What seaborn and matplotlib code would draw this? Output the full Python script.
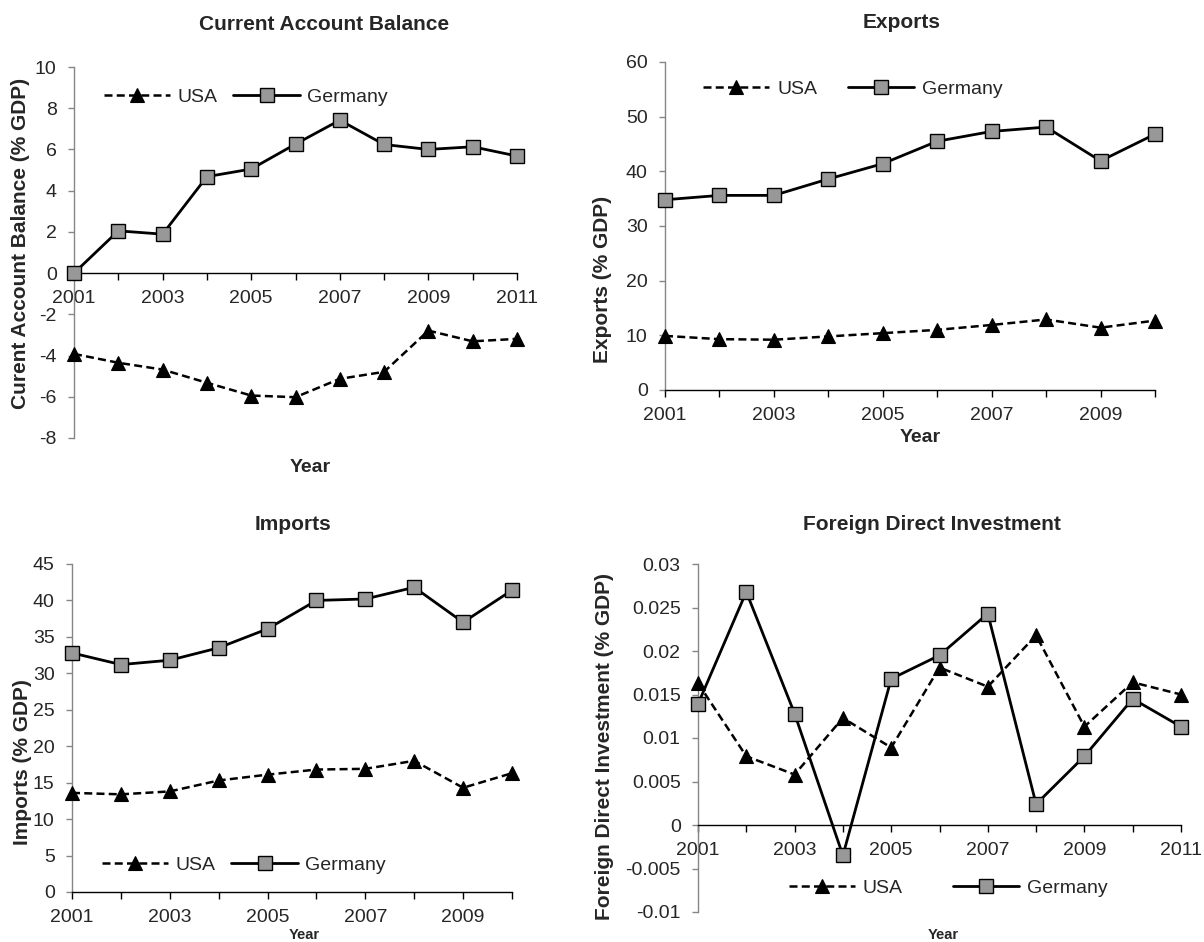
import matplotlib
matplotlib.use("Agg")
import matplotlib.pyplot as plt
from matplotlib.ticker import FixedLocator, FuncFormatter
import seaborn as sns
import pandas as pd

# ---------------- data ----------------
years_ca = [2001, 2002, 2003, 2004, 2005, 2006, 2007, 2008, 2009, 2010, 2011]
ca_usa = [-3.92, -4.35, -4.68, -5.32, -5.94, -6.02, -5.13, -4.79, -2.79, -3.31, -3.19]
ca_ger = [0.0, 2.05, 1.89, 4.68, 5.05, 6.26, 7.42, 6.24, 6.00, 6.13, 5.68]

years_trade = [2001, 2002, 2003, 2004, 2005, 2006, 2007, 2008, 2009, 2010]
exp_usa = [9.9, 9.3, 9.2, 9.8, 10.4, 11.0, 11.9, 12.9, 11.4, 12.7]
exp_ger = [34.8, 35.6, 35.6, 38.6, 41.4, 45.5, 47.3, 48.1, 41.9, 46.8]
imp_usa = [13.6, 13.4, 13.8, 15.3, 16.1, 16.8, 16.9, 18.0, 14.3, 16.3]
imp_ger = [32.8, 31.2, 31.8, 33.5, 36.1, 40.0, 40.2, 41.8, 37.0, 41.4]

years_fdi = [2001, 2002, 2003, 2004, 2005, 2006, 2007, 2008, 2009, 2010, 2011]
fdi_usa = [0.0163, 0.0079, 0.0058, 0.0123, 0.0089, 0.0181, 0.0159, 0.0218, 0.0113, 0.0164, 0.0150]
fdi_ger = [0.0139, 0.0268, 0.0128, -0.0035, 0.0168, 0.0195, 0.0243, 0.0024, 0.0079, 0.0145, 0.0113]

countries = ["USA", "Germany"]
titles = ["Current Account Balance", "Exports", "Imports", "Foreign Direct Investment"]
ylabels = ["Curent Account Balance (% GDP)", "Exports (% GDP)", "Imports (% GDP)",
           "Foreign Direct Investment (% GDP)"]
xlabel = "Year"
yticks_ca = [-8, -6, -4, -2, 0, 2, 4, 6, 8, 10]
yticks_exp = [0, 10, 20, 30, 40, 50, 60]
yticks_imp = [0, 5, 10, 15, 20, 25, 30, 35, 40, 45]
yticks_fdi = [-0.01, -0.005, 0, 0.005, 0.01, 0.015, 0.02, 0.025, 0.03]

# ---------------- style ----------------
sns.set_theme(style="white")
plt.rcParams["font.family"] = ["Liberation Sans", "DejaVu Sans"]
plt.rcParams["axes.unicode_minus"] = False

W, H = 1204, 942
fig = plt.figure(figsize=(W / 100, H / 100), dpi=100)


def rect(l, r, t, b):
    return [l / W, 1 - b / H, (r - l) / W, (b - t) / H]


def fxy(px, py):
    return (px / W, 1 - py / H)


GRAY_AX = "#868686"
MARK_GRAY = "#989898"

panels = [
    dict(years=years_ca, usa=ca_usa, ger=ca_ger, yticks=yticks_ca, rect=rect(74, 517, 67, 438),
         cross0=True, title_xy=(324, 25), ylab_xy=(21, 243), xlab_xy=(310, 468), xlab_size=14,
         leg_xy=(246, 97), colsp=0.8),
    dict(years=years_trade, usa=exp_usa, ger=exp_ger, yticks=yticks_exp, rect=rect(665, 1155, 62, 390),
         cross0=False, title_xy=(902, 23), ylab_xy=(602, 279), xlab_xy=(920, 438), xlab_size=14,
         leg_xy=(853, 89), colsp=1.6),
    dict(years=years_trade, usa=imp_usa, ger=imp_ger, yticks=yticks_imp, rect=rect(72, 512, 564, 892),
         cross0=False, title_xy=(293, 525), ylab_xy=(22, 762), xlab_xy=(304, 935), xlab_size=10.5,
         leg_xy=(244, 865), colsp=0.8),
    dict(years=years_fdi, usa=fdi_usa, ger=fdi_ger, yticks=yticks_fdi, rect=rect(698, 1181, 564, 912),
         cross0=True, title_xy=(932, 525), ylab_xy=(604, 747), xlab_xy=(943, 935), xlab_size=10.5,
         leg_xy=(948, 888), colsp=2.6),
]

for i, p in enumerate(panels):
    ax = fig.add_axes(p["rect"])
    df = pd.DataFrame({
        "Year": p["years"] * 2,
        "Value": p["usa"] + p["ger"],
        "Country": [countries[0]] * len(p["years"]) + [countries[1]] * len(p["years"]),
    })
    sns.lineplot(data=df[df["Country"] == "USA"], x="Year", y="Value", ax=ax,
                 color="black", linewidth=1.8, linestyle=(0, (3.2, 1.7)),
                 marker="^", markersize=10, markerfacecolor="black",
                 markeredgecolor="black", markeredgewidth=0.8, clip_on=False,
                 label="USA", zorder=3)
    sns.lineplot(data=df[df["Country"] == "Germany"], x="Year", y="Value", ax=ax,
                 color="black", linewidth=2.0, linestyle="-",
                 marker="s", markersize=10.5, markerfacecolor=MARK_GRAY,
                 markeredgecolor="black", markeredgewidth=1.0, clip_on=False,
                 label="Germany", zorder=4)

    yrs = p["years"]
    ax.set_xlim(yrs[0], yrs[-1])
    ax.set_ylim(p["yticks"][0], p["yticks"][-1])
    ax.xaxis.set_major_locator(FixedLocator(yrs))
    ax.set_xticklabels([str(y) if (y - yrs[0]) % 2 == 0 else "" for y in yrs])
    ax.yaxis.set_major_locator(FixedLocator(p["yticks"]))
    ax.yaxis.set_major_formatter(FuncFormatter(lambda v, pos: "{:g}".format(round(v, 6))))

    for s in ["top", "right"]:
        ax.spines[s].set_visible(False)
    ax.spines["left"].set_color(GRAY_AX)
    ax.spines["left"].set_linewidth(1.0)
    ax.spines["bottom"].set_color("black")
    ax.spines["bottom"].set_linewidth(1.0)
    if p["cross0"]:
        ax.spines["bottom"].set_position(("data", 0))
    ax.tick_params(axis="x", direction="out", length=5, width=1.0, color="black",
                   labelsize=14, pad=7, bottom=True)
    ax.tick_params(axis="y", direction="out", length=4.5, width=1.0, color=GRAY_AX,
                   labelsize=14, pad=8, left=True)
    ax.grid(False)

    # axis labels
    ax.set_xlabel(xlabel, fontsize=p["xlab_size"], fontweight="bold")
    ax.xaxis.label.set_va("center")
    ax.xaxis.set_label_coords(*fxy(*p["xlab_xy"]), transform=fig.transFigure)
    ax.set_ylabel(ylabels[i], fontsize=15, fontweight="bold")
    ax.yaxis.label.set_va("center")
    ax.yaxis.set_label_coords(*fxy(*p["ylab_xy"]), transform=fig.transFigure)

    fig.text(*fxy(*p["title_xy"]), titles[i], ha="center", va="center",
             fontsize=15, fontweight="bold")

    h, l = ax.get_legend_handles_labels()
    ax.legend(h[:2], l[:2], loc="center", bbox_to_anchor=fxy(*p["leg_xy"]),
              bbox_transform=fig.transFigure, ncol=2, frameon=False, fontsize=14,
              handlelength=3.4, handletextpad=0.4, columnspacing=p["colsp"],
              borderaxespad=0, borderpad=0)

fig.savefig("out.png", dpi=100)
